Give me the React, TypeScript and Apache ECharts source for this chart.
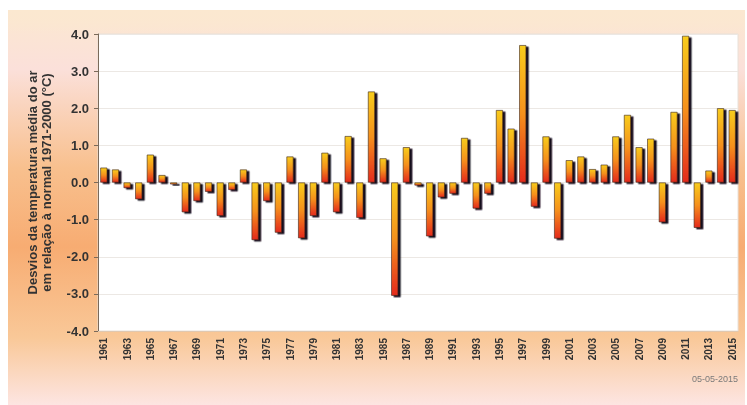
import { useEffect, useRef } from 'react';
import * as echarts from 'echarts';

const years = Array.from({ length: 55 }, (_, i) => String(1961 + i));

const anomalies = [
  0.4, 0.35, -0.15, -0.45, 0.75, 0.2, -0.05, -0.8, -0.5, -0.25,
  -0.9, -0.2, 0.35, -1.55, -0.5, -1.35, 0.7, -1.5, -0.9, 0.8,
  -0.8, 1.25, -0.95, 2.45, 0.65, -3.05, 0.95, -0.08, -1.45, -0.4,
  -0.3, 1.2, -0.7, -0.3, 1.95, 1.45, 3.7, -0.65, 1.24, -1.51,
  0.6, 0.7, 0.36, 0.48, 1.24, 1.82, 0.95, 1.18, -1.07, 1.9,
  3.95, -1.22, 0.32, 2.0, 1.95,
];

const yTitle = 'Desvios da temperatura média do ar\nem relação à normal 1971-2000 (°C)';
const stamp = '05-05-2015';

export default function App() {
  const chartRef = useRef<HTMLDivElement>(null);

  useEffect(() => {
    if (!chartRef.current) return;
    const chart = echarts.init(chartRef.current, undefined, { renderer: 'svg' });

    const option: echarts.EChartsOption = {
      animation: false,
      textStyle: { fontFamily: 'Liberation Sans, Arial, sans-serif' },
      graphic: [
        {
          type: 'rect',
          z: -10,
          silent: true,
          shape: { x: 8, y: 10, width: 737, height: 395 },
          style: {
            fill: new echarts.graphic.LinearGradient(0, 0, 0, 1, [
              { offset: 0, color: '#fbe8d0' },
              { offset: 0.15, color: '#fbe0da' },
              { offset: 0.4, color: '#f8c08e' },
              { offset: 0.6, color: '#f7ac72' },
              { offset: 0.83, color: '#f9c898' },
              { offset: 1, color: '#fde5e2' },
            ]),
          },
        },
        {
          type: 'rect',
          z: -9,
          silent: true,
          shape: { x: 8, y: 10, width: 737, height: 24 },
          style: {
            fill: new echarts.graphic.LinearGradient(0, 0, 0, 1, [
              { offset: 0, color: '#fbe8d0' },
              { offset: 1, color: 'rgba(251,232,208,0)' },
            ]),
          },
        },
        {
          type: 'text',
          right: 9,
          top: 374,
          style: { text: stamp, fill: '#7a7a7a', fontSize: 9, fontFamily: 'Liberation Sans, Arial, sans-serif' },
        },
      ],
      grid: {
        left: 98,
        right: 9,
        top: 34,
        bottom: 74,
        show: true,
        backgroundColor: '#ffffff',
        borderColor: '#e8e0d8',
        borderWidth: 1,
      },
      xAxis: {
        type: 'category',
        data: years,
        axisLine: { onZero: false, lineStyle: { color: '#e0c8b0' } },
        axisTick: { show: false },
        axisLabel: {
          rotate: 90,
          interval: 1,
          fontSize: 10,
          fontWeight: 'bold',
          color: '#333333',
          margin: 7,
        },
      },
      yAxis: {
        type: 'value',
        min: -4,
        max: 4,
        interval: 1,
        name: yTitle,
        nameLocation: 'middle',
        nameRotate: 90,
        nameGap: 45,
        nameTextStyle: { fontSize: 13, fontWeight: 'bold', color: '#333333', lineHeight: 14 },
        axisLine: { show: true, lineStyle: { color: '#7a6a5a' } },
        axisTick: { show: true, length: 4, lineStyle: { color: '#7a6a5a' } },
        axisLabel: {
          formatter: (v: number) => v.toFixed(1),
          fontSize: 13,
          fontWeight: 'bold',
          color: '#333333',
          margin: 9,
        },
        splitLine: { lineStyle: { color: '#ece8e4' } },
      },
      series: [
        {
          type: 'bar',
          data: anomalies,
          barWidth: 7,
          itemStyle: {
            color: new echarts.graphic.LinearGradient(0, 0, 0, 1, [
              { offset: 0, color: '#f8cc1c' },
              { offset: 0.5, color: '#f5901e' },
              { offset: 1, color: '#e42a1c' },
            ]),
            borderColor: '#3a2418',
            borderWidth: 0.6,
            shadowColor: 'rgba(20,10,30,1)',
            shadowOffsetX: 2.5,
            shadowOffsetY: 1.5,
            shadowBlur: 1,
          },
        },
      ],
    };

    chart.setOption(option);
    return () => chart.dispose();
  }, []);

  return (
    <div
      ref={chartRef}
      style={{ position: 'fixed', left: 0, top: 0, width: 747, height: 405 }}
    />
  );
}
